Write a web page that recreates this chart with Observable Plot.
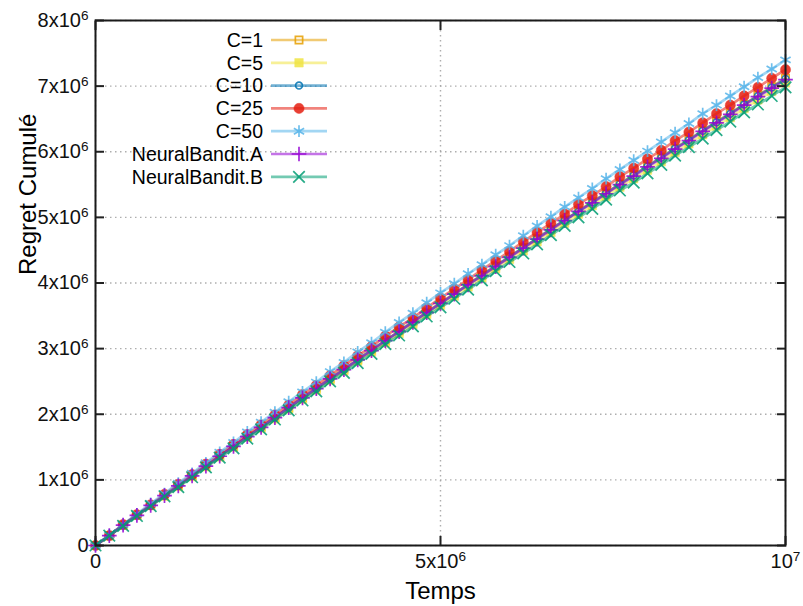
<!DOCTYPE html>
<html><head><meta charset="utf-8">
<script src="https://cdn.jsdelivr.net/npm/d3@7"></script>
<script src="https://cdn.jsdelivr.net/npm/@observablehq/plot@0.6"></script>
<style>
html,body{margin:0;padding:0;background:#fff;}
#wrap{position:relative;width:803px;height:606px;font-family:"Liberation Sans",Arial,sans-serif;}
#legend{position:absolute;left:0;top:0;pointer-events:none;}
</style></head><body><div id="wrap"></div>
<script>
const UNIT = 1e6;
// time (millions)
const time = [0,0.2,0.4,0.6,0.8,1.0,1.2,1.4,1.6,1.8,2.0,2.2,2.4,2.6,2.8,3.0,3.2,3.4,3.6,3.8,4.0,4.2,4.4,4.6,4.8,5.0,5.2,5.4,5.6,5.8,6.0,6.2,6.4,6.6,6.8,7.0,7.2,7.4,7.6,7.8,8.0,8.2,8.4,8.6,8.8,9.0,9.2,9.4,9.6,9.8,10.0];
const seriesNames = ["C=1","C=5","C=10","C=25","C=50","NeuralBandit.A","NeuralBandit.B"];
// cumulative regret (millions)
const regretC1 = [0,0.15,0.31,0.46,0.61,0.76,0.91,1.06,1.21,1.36,1.51,1.66,1.81,1.95,2.10,2.25,2.40,2.54,2.69,2.83,2.98,3.12,3.27,3.41,3.56,3.70,3.84,3.98,4.12,4.26,4.40,4.54,4.68,4.82,4.96,5.10,5.24,5.37,5.51,5.65,5.78,5.92,6.05,6.19,6.32,6.46,6.59,6.72,6.86,6.99,7.12];
const regretC5 = [0,0.15,0.31,0.46,0.61,0.75,0.90,1.05,1.20,1.35,1.50,1.65,1.79,1.93,2.08,2.23,2.37,2.52,2.66,2.81,2.95,3.09,3.23,3.37,3.52,3.66,3.80,3.94,4.08,4.22,4.36,4.49,4.63,4.77,4.91,5.05,5.18,5.32,5.46,5.59,5.72,5.85,5.99,6.12,6.26,6.39,6.52,6.66,6.79,6.92,7.05];
const regretC10 = [0,0.15,0.31,0.46,0.61,0.76,0.91,1.06,1.21,1.36,1.51,1.66,1.80,1.95,2.10,2.25,2.39,2.54,2.68,2.83,2.98,3.12,3.26,3.41,3.55,3.69,3.83,3.98,4.12,4.26,4.40,4.54,4.68,4.82,4.96,5.09,5.23,5.37,5.51,5.64,5.78,5.91,6.05,6.18,6.32,6.45,6.58,6.72,6.85,6.98,7.11];
const regretC25 = [0,0.15,0.32,0.47,0.62,0.78,0.93,1.08,1.24,1.39,1.54,1.69,1.84,1.99,2.14,2.30,2.44,2.59,2.74,2.89,3.03,3.19,3.33,3.47,3.62,3.77,3.91,4.05,4.20,4.34,4.48,4.63,4.77,4.91,5.05,5.20,5.33,5.47,5.62,5.75,5.89,6.02,6.17,6.30,6.44,6.58,6.71,6.85,6.98,7.12,7.25];
const regretC50 = [0,0.16,0.32,0.48,0.64,0.79,0.95,1.10,1.26,1.42,1.57,1.73,1.88,2.03,2.19,2.34,2.49,2.65,2.79,2.95,3.09,3.25,3.40,3.54,3.70,3.85,3.99,4.14,4.28,4.43,4.57,4.72,4.87,5.01,5.16,5.30,5.44,5.59,5.73,5.87,6.01,6.15,6.29,6.43,6.58,6.71,6.85,6.99,7.13,7.26,7.40];
const regretNA = [0,0.15,0.31,0.46,0.61,0.76,0.91,1.06,1.21,1.36,1.51,1.66,1.80,1.95,2.10,2.25,2.39,2.54,2.68,2.83,2.97,3.12,3.26,3.40,3.55,3.69,3.83,3.97,4.11,4.25,4.39,4.53,4.67,4.81,4.95,5.09,5.22,5.36,5.50,5.63,5.77,5.90,6.04,6.17,6.31,6.44,6.57,6.71,6.84,6.97,7.10];
const regretNB = [0,0.15,0.30,0.45,0.60,0.75,0.89,1.04,1.19,1.34,1.48,1.63,1.77,1.92,2.06,2.21,2.35,2.50,2.63,2.78,2.92,3.07,3.20,3.34,3.49,3.63,3.76,3.90,4.04,4.18,4.32,4.45,4.59,4.73,4.87,5.00,5.13,5.27,5.41,5.53,5.67,5.80,5.94,6.07,6.20,6.33,6.46,6.60,6.72,6.85,6.98];
const yTicks = [0,1e6,2e6,3e6,4e6,5e6,6e6,7e6,8e6];
const yTickLabels = ["0","1x10^6","2x10^6","3x10^6","4x10^6","5x10^6","6x10^6","7x10^6","8x10^6"];
const xTicks = [0,5e6,1e7];
const xTickLabels = ["0","5x10^6","10^7"];

// styles
const colors = ["#e69f00","#f0e442","#0072b2","#e51e10","#56b4e9","#9400d3","#009e73"];
const symbols = ["square","square","circle","circle","asterisk","plus","times"];
const filled = [false,true,false,true,false,false,false];
const radii = [4.1,4.8,3.4,5.1,5.6,4.8,5.3];

const seriesValues = [regretC1,regretC5,regretC10,regretC25,regretC50,regretNA,regretNB];
const rows = [];
seriesNames.forEach((name,i)=>{
  time.forEach((t,j)=>rows.push({series:name, t:t*UNIT, v:seriesValues[i][j]*UNIT}));
});

const marks = [
  Plot.gridY(yTicks,{stroke:"#9a9a9a",strokeOpacity:0.8,strokeDasharray:"1.5,3.5",strokeWidth:1.4}),
  Plot.gridX(xTicks,{stroke:"#9a9a9a",strokeOpacity:0.8,strokeDasharray:"1.5,3.5",strokeWidth:1.4}),
];
seriesNames.forEach((name,i)=>{
  const d = rows.filter(r=>r.series===name);
  marks.push(Plot.line(d,{x:"t",y:"v",stroke:colors[i],strokeWidth:2.7,strokeOpacity:0.55}));
  marks.push(Plot.dot(d,{x:"t",y:"v",symbol:symbols[i],r:radii[i],
    fill: filled[i]?colors[i]:"none", stroke:colors[i], strokeWidth:filled[i]?0.5:1.7, opacity:0.85}));
});
marks.push(
  Plot.axisY(yTicks,{anchor:"left",tickSize:-9,text:null,label:null,strokeWidth:2,stroke:"#222"}),
  Plot.axisY(yTicks,{anchor:"right",tickSize:-9,text:null,label:null,strokeWidth:2,stroke:"#222"}),
  Plot.axisX(xTicks,{anchor:"bottom",tickSize:-9,text:null,label:null,strokeWidth:2,stroke:"#222"}),
  Plot.axisX(xTicks,{anchor:"top",tickSize:-9,text:null,label:null,strokeWidth:2,stroke:"#222"}),
  Plot.axisY(yTicks,{anchor:"left",tickSize:0,tickPadding:7,label:null,fill:"#111",
    tickFormat:d=>yTickLabels[yTicks.indexOf(d)]}),
  Plot.axisX(xTicks,{anchor:"bottom",tickSize:0,tickPadding:8,label:null,fill:"#111",
    tickFormat:d=>xTickLabels[xTicks.indexOf(d)]}),
  Plot.frame({stroke:"#1a1a1a",strokeWidth:2}),
  Plot.text(["Temps"],{frameAnchor:"bottom",dy:46,text:d=>d,fontSize:24,lineAnchor:"middle",fill:"#000"}),
  Plot.text(["Regret Cumulé"],{frameAnchor:"left",dx:-67,dy:-8,rotate:-90,text:d=>d,fontSize:24,lineAnchor:"middle",fill:"#000"})
);

const chart = Plot.plot({
  width:803, height:606,
  marginLeft:95, marginRight:18, marginTop:20, marginBottom:61,
  style:{fontFamily:'"Liberation Sans",Arial,sans-serif',fontSize:"20px",background:"#fff",overflow:"visible"},
  x:{domain:[0,1e7]},
  y:{domain:[0,8e6]},
  marks
});
document.getElementById("wrap").appendChild(chart);

// superscripts in tick labels
d3.select(chart).selectAll('g[aria-label$="tick label"] text').each(function(){
  const s = this.textContent;
  if (s.includes("^")) {
    const [base, exp] = s.split("^");
    const el = d3.select(this);
    el.text(base);
    el.append("tspan").attr("dy","-0.5em").attr("font-size","0.68em").text(exp);
  }
});

// legend (inside plot, top-left)
const d3Sym = {square:d3.symbolSquare,circle:d3.symbolCircle,asterisk:d3.symbolAsterisk,plus:d3.symbolPlus,times:d3.symbolTimes};
const leg = d3.select("#wrap").append("svg").attr("id","legend").attr("width",803).attr("height",606)
  .style("font-family",'"Liberation Sans",Arial,sans-serif');
seriesNames.forEach((name,i)=>{
  const y = 40 + i*22.8;
  leg.append("text").attr("x",263).attr("y",y).attr("dy","0.35em").attr("text-anchor","end")
    .attr("font-size",19.5).attr("fill","#000").text(name);
  leg.append("line").attr("x1",271).attr("x2",327).attr("y1",y).attr("y2",y)
    .attr("stroke",colors[i]).attr("stroke-width",2.7).attr("stroke-opacity",0.55);
  leg.append("path").attr("transform",`translate(299,${y})`)
    .attr("d",d3.symbol(d3Sym[symbols[i]], Math.PI*radii[i]*radii[i])())
    .attr("fill",filled[i]?colors[i]:"none").attr("stroke",colors[i])
    .attr("stroke-width",filled[i]?0.5:1.7).attr("opacity",0.85);
});
</script></body></html>
